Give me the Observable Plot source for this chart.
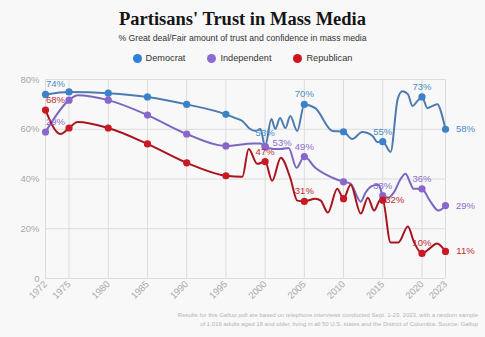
<!DOCTYPE html>
<html><head><meta charset="utf-8">
<script src="https://cdn.jsdelivr.net/npm/d3@7"></script>
<script src="https://cdn.jsdelivr.net/npm/@observablehq/plot@0.6"></script>
<style>
html,body{margin:0;padding:0;}
body{width:485px;height:337px;background:#f8f8f8;position:relative;overflow:hidden;font-family:"Liberation Sans",Arial,sans-serif;}
#title{position:absolute;top:8px;left:0;width:485px;text-align:center;font-family:"Liberation Serif","DejaVu Serif",serif;font-weight:bold;font-size:18.5px;line-height:22px;color:#151515;}
#subtitle{position:absolute;top:32px;left:0;width:485px;text-align:center;font-size:8.7px;line-height:12px;color:#333;}
#legend{position:absolute;top:52px;left:0;width:485px;display:flex;justify-content:center;gap:22px;font-size:9.2px;line-height:12px;color:#333;}
#legend span.item{display:flex;align-items:center;gap:4px;}
#legend i{display:inline-block;width:9px;height:9px;border-radius:50%;}
#chart{position:absolute;top:68px;left:0;}
#caption{position:absolute;top:311px;right:7px;text-align:right;font-size:6px;line-height:9px;color:#b4b4b4;}
</style>
</head><body>
<div id="title"></div>
<div id="subtitle"></div>
<div id="legend"></div>
<div id="chart"></div>
<div id="caption"></div>
<script>
// ---- data ----
const titleText = "Partisans' Trust in Mass Media";
const subtitleText = "% Great deal/Fair amount of trust and confidence in mass media";
const captionLines = [
  "Results for this Gallup poll are based on telephone interviews conducted Sept. 1-23, 2023, with a random sample",
  "of 1,016 adults aged 18 and older, living in all 50 U.S. states and the District of Columbia. Source: Gallup"
];
const seriesNames = ["Democrat", "Independent", "Republican"];
const xTicks = [1972, 1975, 1980, 1985, 1990, 1995, 2000, 2005, 2010, 2015, 2020, 2023];
const yTicks = [0, 20, 40, 60, 80];
const markerYears = [1972, 1975, 1980, 1985, 1990, 1995, 2000, 2005, 2010, 2015, 2020, 2023];

const democrat = [
  [1972,74],[1975,75],[1980,74.5],[1985,73],[1990,70],[1995,66],[1996.2,64.5],[1997.1,63.3],
  [1998,60.3],[1998.8,59.3],[1999.4,60.1],[2000,53],[2000.8,64.1],[2001.3,60.1],[2001.9,64.5],
  [2002.6,60.5],[2003.2,65.3],[2004.1,59.3],[2005,70],[2006.4,68.5],[2008.6,59.3],[2010,59],
  [2011.1,56.1],[2012.4,58.9],[2013.7,57.3],[2014.3,54.9],[2015,55],[2016,50.9],[2016.9,72.1],
  [2017.5,75.3],[2018.2,74.1],[2018.8,69.3],[2019.4,71.3],[2020,73],[2020.7,68.5],[2021.3,69.3],
  [2022,70.1],[2022.4,67.3],[2023,60]
];
const independent = [
  [1972,58.9],[1975,71.7],[1976.1,73.7],[1980,71.7],[1985,65.7],[1990,58.1],[1995,53.3],
  [1998.5,54.3],[1999.4,54.3],[2000,53],[2001.1,52.1],[2002,52.1],[2003,52.5],[2004,44.5],
  [2005,49],[2006.4,44.5],[2008.6,40.5],[2010,38.9],[2010.9,38.1],[2012.2,30.9],[2012.8,34.5],
  [2013.7,37.3],[2014.5,37.7],[2015,33.3],[2015.7,32.5],[2016.4,34.5],[2017.3,40.1],[2017.9,42.1],
  [2018.5,38.5],[2018.9,36.1],[2020,36],[2021,31.3],[2022.1,27.3],[2023,29.3]
];
const republican = [
  [1972,67.7],[1973.9,58.1],[1975,60.5],[1976.1,62.9],[1980,60.5],[1985,54.1],[1990,46.5],
  [1995,41.3],[1997.1,40.9],[1997.9,52.1],[1999,46.1],[2000,47],[2000.9,39.3],[2002,48.5],
  [2003.2,40.5],[2004.1,31.3],[2005,31],[2006.4,32.1],[2007.1,31.3],[2008,26.5],[2009.2,36.1],
  [2010,32.1],[2010.9,37.7],[2012.2,26.1],[2013.1,32.5],[2013.9,27.3],[2014.7,31.7],[2015,31.5],
  [2016,14.5],[2017,14.5],[2018.2,20.9],[2019,14.5],[2020,10.1],[2021,12.1],[2021.9,14.1],[2023,10.9]
];
const demLabels = [[1972,"74%"],[2000,"53%"],[2005,"70%"],[2015,"55%"],[2020,"73%"],[2023,"58%"]];
const indLabels = [[1972,"29%"],[2000,"53%"],[2005,"49%"],[2015,"33%"],[2020,"36%"],[2023,"29%"]];
const repLabels = [[1972,"68%"],[2000,"47%"],[2005,"31%"],[2015,"32%"],[2020,"10%"],[2023,"11%"]];

// ---- styling ----
const lineColors = {Democrat:"#4d7bb0", Independent:"#7b67c2", Republican:"#a8141f"};
const dotColors = {Democrat:"#3b82c9", Independent:"#8a65cc", Republican:"#c81a24"};
const labelColors = {Democrat:"#4b8cc6", Independent:"#8d6ccb", Republican:"#c12a31"};
const legendColors = {Democrat:"#2f80d8", Independent:"#8f68d8", Republican:"#d0141c"};

document.getElementById("title").textContent = titleText;
document.getElementById("subtitle").textContent = subtitleText;
document.getElementById("caption").innerHTML = captionLines.map(s => `<div>${s}</div>`).join("");
document.getElementById("legend").innerHTML = seriesNames.map(n =>
  `<span class="item"><i style="background:${legendColors[n]}"></i>${n}</span>`).join("");

const seriesData = {Democrat: democrat, Independent: independent, Republican: republican};
const labelData = {Democrat: demLabels, Independent: indLabels, Republican: repLabels};
const rows = seriesNames.flatMap(s => seriesData[s].map(([year, value]) => ({series: s, year, value})));
const dots = rows.filter(d => markerYears.includes(d.year));

// label placement (style, not data)
function offset(series, year) {
  if (year === 2023) return {dx: 20, dy: 0};
  if (year === 1972) return {dx: 10, dy: -10};
  if (series === "Democrat" && year === 2000) return {dx: 0, dy: -14};
  if (series === "Independent" && year === 2000) return {dx: 17, dy: -4};
  if (series === "Republican" && year === 2015) return {dx: 12, dy: 0};
  return {dx: 0, dy: -10};
}
const labels = seriesNames.flatMap(s => labelData[s].map(([year, text]) => {
  const pt = seriesData[s].find(p => p[0] === year);
  const o = offset(s, year);
  return {series: s, year, value: pt[1], text, dx: o.dx, dy: o.dy};
}));

const marks = [
  Plot.gridX(xTicks, {stroke: "#dcdcdc", strokeOpacity: 1, strokeWidth: 1}),
  Plot.gridY(yTicks, {stroke: "#dcdcdc", strokeOpacity: 1, strokeWidth: 1}),
  Plot.axisX(xTicks, {tickSize: 0, tickRotate: -45, tickFormat: d => String(d), fill: "#a8a8a8", fontSize: 9.5, tickPadding: 4, label: null}),
  Plot.axisY(yTicks, {tickSize: 0, tickFormat: d => d === 0 ? "0" : d + "%", fill: "#a8a8a8", fontSize: 9.5, tickPadding: 6, label: null})
];
for (const s of seriesNames) {
  marks.push(Plot.line(rows.filter(d => d.series === s), {x: "year", y: "value", stroke: lineColors[s], strokeWidth: 2, curve: "monotone-x"}));
  marks.push(Plot.dot(dots.filter(d => d.series === s), {x: "year", y: "value", r: 3.6, fill: dotColors[s], stroke: "none"}));
}
for (const l of labels) {
  marks.push(Plot.text([l], {x: "year", y: "value", text: "text", dx: l.dx, dy: l.dy, fill: labelColors[l.series], fontSize: 9.5, fontWeight: 500}));
}

const chart = Plot.plot({
  width: 485,
  height: 240,
  marginTop: 11,
  marginBottom: 30,
  marginLeft: 45,
  marginRight: 40,
  style: {background: "transparent", fontFamily: "'Liberation Sans', Arial, sans-serif", overflow: "visible"},
  x: {domain: [1972, 2023]},
  y: {domain: [0, 80]},
  marks
});
document.getElementById("chart").appendChild(chart);
</script>
</body></html>
